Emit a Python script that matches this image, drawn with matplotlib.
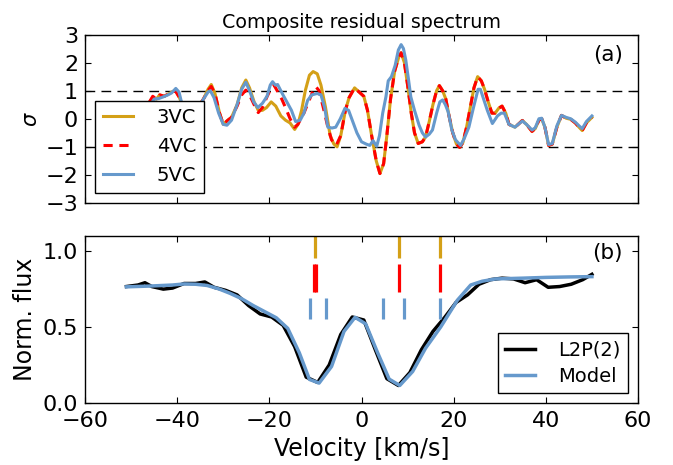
import matplotlib
matplotlib.use('Agg')
import matplotlib.pyplot as plt


# residuals (in sigma) of the 3, 4 and 5 velocity component fits
v_3vc = [-46.0, -45.3, -44.5, -43.8, -42.8, -41.7, -40.4, -39.5, -38.5, -37.0,
         -35.5, -34.3, -33.3, -32.6, -31.8, -30.8, -30.0, -29.0, -28.2, -27.0,
         -26.0, -25.1, -24.3, -23.3, -22.4, -21.5, -20.6, -19.6, -18.6, -17.5,
         -16.5, -15.5, -14.5, -13.8, -13.0, -12.2, -11.3, -10.5, -9.6, -8.8,
         -7.8, -6.8, -6.0, -5.3, -4.5, -3.5, -2.7, -1.5, -0.5, 0.5,
         1.3, 2.2, 3.2, 4.0, 4.8, 5.5, 6.3, 7.2, 8.1, 8.6,
         9.3, 10.0, 10.8, 11.5, 12.3, 13.2, 13.9, 14.7, 15.5, 16.3,
         16.9, 17.6, 18.3, 19.0, 19.8, 20.6, 21.3, 22.0, 22.8, 23.6,
         24.4, 25.2, 26.0, 26.7, 27.5, 28.3, 29.0, 29.8, 30.5, 31.3,
         32.0, 33.3, 34.0, 34.9, 35.8, 37.0, 37.7, 38.5, 39.1, 39.8,
         40.6, 41.4, 42.4, 43.4, 44.4, 45.4, 46.4, 47.2, 47.9, 48.8, 50.0]
res_3vc = [0.6, 0.75, 0.7, 0.85, 0.8, 0.9, 1.02, 0.75, 0.3, 0.1,
           0.4, 0.7, 1.05, 1.22, 0.9, 0.2, -0.2, -0.05, 0.05, 0.5,
           1.1, 1.38, 1.1, 0.6, 0.3, 0.3, 0.4, 0.6, 0.45, 0.1,
           -0.05, -0.15, -0.38, -0.2, 0.3, 1.0, 1.55, 1.68, 1.6, 1.2,
           0.4, -0.6, -0.9, -1.0, -0.6, 0.3, 0.75, 1.1, 0.95, 0.8,
           0.3, -0.6, -1.5, -1.95, -1.6, -0.6, 0.7, 1.7, 2.2, 2.35,
           2.0, 1.2, 0.2, -0.5, -0.88, -0.82, -0.65, -0.1, 0.5, 1.0,
           1.18, 1.0, 0.7, 0.1, -0.5, -0.9, -1.02, -0.85, -0.3, 0.4,
           1.1, 1.5, 1.35, 1.05, 0.6, 0.2, 0.2, 0.38, 0.45, 0.2,
           -0.2, -0.3, -0.2, -0.06, -0.2, -0.45, -0.35, -0.05, 0.0, -0.3,
           -0.95, -0.9, -0.3, 0.12, 0.02, -0.02, -0.15, -0.3, -0.42, -0.15, 0.05]

v_4vc = [-46.0, -45.3, -44.5, -43.8, -42.8, -41.7, -40.4, -39.5, -38.5, -37.0,
         -35.5, -34.3, -33.3, -32.6, -31.8, -30.8, -30.0, -29.0, -28.2, -27.0,
         -26.0, -25.1, -24.3, -23.3, -22.4, -21.5, -20.6, -19.6, -19.0, -18.3,
         -17.3, -16.5, -15.5, -14.5, -13.8, -12.5, -11.5, -10.5, -9.9, -9.2,
         -8.3, -7.3, -6.5, -5.5, -4.5, -3.5, -2.7, -1.5, -0.5, 0.5,
         1.3, 2.2, 3.2, 4.0, 4.8, 5.5, 6.3, 7.2, 8.1, 8.6,
         9.3, 10.0, 10.8, 11.5, 12.3, 13.2, 13.9, 14.7, 15.5, 16.3,
         16.9, 17.6, 18.3, 19.0, 19.8, 20.6, 21.3, 22.0, 22.8, 23.6,
         24.4, 25.2, 26.0, 26.7, 27.5, 28.3, 29.0, 29.8, 30.5, 31.3,
         32.0, 33.3, 34.0, 34.9, 35.8, 37.0, 37.7, 38.5, 39.1, 39.8,
         40.6, 41.4, 42.4, 43.4, 44.4, 45.4, 46.4, 47.2, 47.9, 48.8, 50.0]
res_4vc = [0.6, 0.8, 0.7, 0.85, 0.8, 0.9, 1.0, 0.75, 0.3, 0.1,
           0.4, 0.7, 1.0, 1.15, 0.9, 0.2, -0.2, -0.05, 0.05, 0.45,
           0.85, 1.02, 0.85, 0.5, 0.22, 0.4, 0.75, 1.1, 1.2, 1.0,
           0.7, 0.4, 0.0, -0.3, -0.2, 0.2, 0.6, 1.0, 1.14, 1.0,
           0.4, -0.3, -0.75, -0.95, -0.6, 0.3, 0.75, 1.1, 0.95, 0.8,
           0.3, -0.6, -1.5, -1.95, -1.6, -0.6, 0.7, 1.7, 2.2, 2.35,
           2.0, 1.2, 0.2, -0.5, -0.88, -0.82, -0.65, -0.1, 0.5, 1.0,
           1.18, 1.0, 0.7, 0.1, -0.5, -0.9, -1.02, -0.85, -0.3, 0.4,
           1.1, 1.5, 1.35, 1.05, 0.6, 0.2, 0.2, 0.38, 0.45, 0.2,
           -0.2, -0.3, -0.2, -0.06, -0.2, -0.45, -0.35, -0.05, 0.0, -0.3,
           -0.95, -0.9, -0.3, 0.12, 0.02, -0.02, -0.15, -0.3, -0.42, -0.15, 0.05]

v_5vc = [-45.8, -45.0, -44.0, -43.0, -42.0, -41.2, -40.3, -39.6, -39.0, -38.0,
         -36.5, -35.3, -34.3, -33.3, -32.8, -32.0, -31.0, -30.0, -29.2, -28.2,
         -27.0, -26.0, -25.1, -24.3, -23.4, -22.5, -21.5, -20.5, -19.8, -19.3,
         -18.7, -18.2, -17.2, -16.2, -15.2, -14.3, -13.3, -12.5, -11.7, -10.8,
         -10.1, -9.6, -8.8, -8.0, -7.3, -6.4, -5.6, -4.6, -3.6, -2.8,
         -1.9, -1.0, 0.0, 1.0, 1.8, 2.5, 3.3, 3.9, 4.6, 5.3,
         5.8, 6.5, 7.3, 8.0, 8.6, 9.1, 9.6, 10.2, 10.7, 11.5,
         12.5, 13.2, 13.9, 14.7, 15.4, 16.3, 17.0, 17.6, 18.2, 18.8,
         19.6, 20.4, 21.5, 22.3, 23.3, 24.3, 25.3, 25.8, 26.5, 27.3,
         28.4, 29.5, 30.3, 31.0, 32.0, 33.3, 34.0, 34.9, 35.8, 37.0,
         37.7, 38.5, 39.1, 39.8, 40.6, 41.4, 42.4, 43.4, 44.4, 45.4,
         46.4, 47.2, 47.9, 48.8, 50.0]
res_5vc = [0.5, 0.7, 0.72, 0.78, 0.85, 0.92, 1.08, 0.95, 0.55, 0.2,
           0.1, 0.4, 0.7, 0.95, 1.0, 0.75, 0.2, -0.2, -0.23, -0.05,
           0.5, 1.05, 1.3, 1.0, 0.6, 0.4, 0.55, 0.8, 1.2, 1.32,
           1.2, 1.22, 0.9, 0.6, 0.3, -0.1, -0.05, 0.2, 0.65, 0.85,
           0.88, 0.9, 0.85, 0.4, -0.3, -0.33, -0.3, 0.0, 0.37, 0.3,
           -0.1, -0.5, -0.82, -0.9, -0.95, -0.78, -0.98, -0.6, 0.2, 0.78,
           1.35, 1.5, 1.9, 2.45, 2.64, 2.5, 2.1, 1.4, 0.78, 0.3,
           -0.23, -0.5, -0.65, -0.55, -0.4, 0.2, 0.6, 0.67, 0.5, 0.25,
           -0.4, -0.75, -0.95, -0.7, -0.3, 0.4, 1.05, 1.05, 0.7, 0.3,
           -0.17, 0.1, 0.2, 0.2, -0.2, -0.3, -0.2, -0.08, -0.2, -0.4,
           -0.32, 0.0, 0.02, -0.3, -0.92, -0.88, -0.25, 0.12, 0.05, 0.0,
           -0.12, -0.25, -0.35, -0.1, 0.1]

# observed L2P(2) line and best (5VC) model
v_obs = [-51.0, -48.5, -47.0, -45.5, -43.0, -41.0, -38.5, -36.0, -34.0, -32.0,
         -29.5, -27.0, -24.5, -22.0, -19.5, -17.0, -14.5, -12.0, -9.5, -7.0,
         -4.5, -2.0, 0.5, 3.0, 5.5, 8.0, 10.5, 13.0, 15.5, 18.0,
         20.5, 23.0, 25.5, 28.0, 30.5, 33.0, 35.5, 38.0, 40.5, 43.0,
         45.5, 48.0, 50.0]
flux_obs = [0.765, 0.775, 0.79, 0.765, 0.748, 0.755, 0.785, 0.785, 0.795, 0.76,
            0.74, 0.71, 0.64, 0.585, 0.565, 0.51, 0.37, 0.17, 0.135, 0.25,
            0.45, 0.565, 0.545, 0.35, 0.16, 0.115, 0.2, 0.35, 0.47, 0.56,
            0.66, 0.71, 0.78, 0.81, 0.82, 0.815, 0.79, 0.81, 0.76, 0.765,
            0.78, 0.81, 0.845]

v_mod = [-51.0, -46.0, -41.0, -38.5, -36.0, -33.5, -31.0, -28.5, -26.0, -23.5,
         -21.0, -18.5, -16.0, -13.5, -11.3, -9.2, -6.5, -3.8, -1.4, 0.9,
         3.5, 6.0, 8.3, 11.1, 13.9, 17.2, 20.8, 23.7, 26.2, 29.1,
         35.0, 40.0, 45.0, 50.0]
flux_mod = [0.763, 0.768, 0.775, 0.782, 0.78, 0.772, 0.75, 0.72, 0.685, 0.64,
            0.6, 0.56, 0.49, 0.33, 0.155, 0.131, 0.24, 0.47, 0.563, 0.52,
            0.33, 0.157, 0.115, 0.207, 0.36, 0.5, 0.675, 0.775, 0.80, 0.815,
            0.82, 0.825, 0.828, 0.83]

# component velocities of each fit
comp_3vc = [-10.0, 8.2, 17.0]
comp_4vc = [-10.3, -9.8, 8.2, 17.0]
comp_5vc = [-11.1, -7.7, 4.6, 9.3, 17.1]

gold = '#d4a017'
blue = '#6699cc'

plt.rcParams['font.family'] = 'DejaVu Sans'
plt.rcParams['xtick.direction'] = 'in'
plt.rcParams['ytick.direction'] = 'in'
plt.rcParams['xtick.top'] = True
plt.rcParams['ytick.right'] = True
plt.rcParams['xtick.major.size'] = 4.5
plt.rcParams['ytick.major.size'] = 4.5
plt.rcParams['xtick.major.pad'] = 6
plt.rcParams['ytick.major.pad'] = 5
plt.rcParams['xtick.labelsize'] = 16
plt.rcParams['ytick.labelsize'] = 16
plt.rcParams['axes.linewidth'] = 1.0

fig = plt.figure(figsize=(6.73, 4.65), dpi=100)
ax1 = fig.add_axes([0.1263, 0.5634, 0.8217, 0.3624])
ax2 = fig.add_axes([0.1263, 0.1333, 0.8217, 0.3602])

# (a) residuals
ax1.axhline(1, color='k', lw=1.0, dashes=(7, 4.5))
ax1.axhline(-1, color='k', lw=1.0, dashes=(7, 4.5))
ax1.plot(v_3vc, res_3vc, color=gold, lw=2.2, label='3VC')
ax1.plot(v_4vc, res_4vc, color='red', lw=2.2, dashes=(3, 2.2), label='4VC')
ax1.plot(v_5vc, res_5vc, color=blue, lw=2.2, label='5VC')
ax1.set_xlim(-60, 60)
ax1.set_ylim(-3, 3)
ax1.set_yticks([-3, -2, -1, 0, 1, 2, 3])
ax1.set_xticks([-60, -40, -20, 0, 20, 40, 60])
ax1.tick_params(labelbottom=False)
ax1.set_ylabel(r'$\sigma$', fontsize=15, labelpad=3)
ax1.set_title('Composite residual spectrum', fontsize=13.7, pad=5)
ax1.text(0.973, 0.876, '(a)', transform=ax1.transAxes, ha='right', va='center', fontsize=15.5)
leg = ax1.legend(loc='lower left', fontsize=14, handlelength=1.55, handletextpad=1.2,
                 labelspacing=0.5, borderpad=0.4, borderaxespad=0.54,
                 fancybox=False, framealpha=1, edgecolor='k')
leg.get_frame().set_linewidth(1.0)

# (b) normalized flux with component positions
ax2.plot(v_obs, flux_obs, color='k', lw=2.5, label='L2P(2)')
ax2.plot(v_mod, flux_mod, color=blue, lw=2.5, label='Model')
ax2.vlines(comp_3vc, 0.95, 1.1, color=gold, lw=2.3)
ax2.vlines(comp_4vc, 0.73, 0.91, color='red', lw=2.3)
ax2.vlines(comp_5vc, 0.55, 0.69, color=blue, lw=2.3)
ax2.set_xlim(-60, 60)
ax2.set_ylim(0, 1.1)
ax2.set_yticks([0.0, 0.5, 1.0])
ax2.set_xticks([-60, -40, -20, 0, 20, 40, 60])
ax2.set_xlabel('Velocity [km/s]', fontsize=17)
ax2.set_ylabel('Norm. flux', fontsize=17, labelpad=4)
ax2.text(0.973, 0.894, '(b)', transform=ax2.transAxes, ha='right', va='center', fontsize=15.5)
leg2 = ax2.legend(loc='lower right', fontsize=14, handlelength=1.55, handletextpad=1.2,
                  labelspacing=0.38, borderpad=0.38, borderaxespad=0.5,
                  fancybox=False, framealpha=1, edgecolor='k')
leg2.get_frame().set_linewidth(1.0)

fig.savefig('out.png', dpi=100)
